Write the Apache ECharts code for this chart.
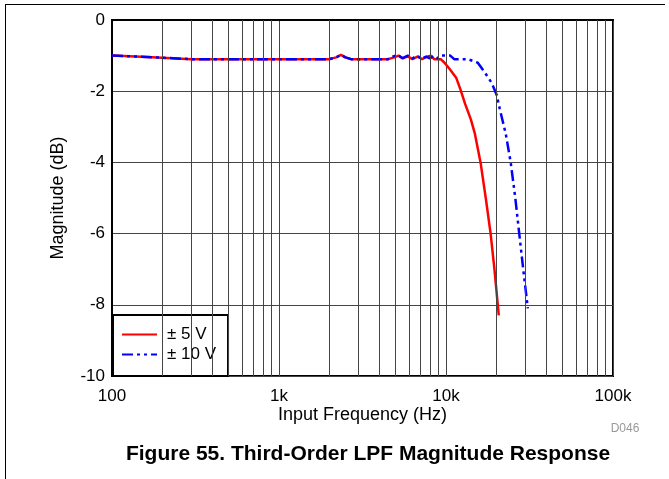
<!DOCTYPE html>
<html>
<head>
<meta charset="utf-8">
<script src="https://cdn.jsdelivr.net/npm/echarts@6/dist/echarts.min.js"></script>
<style>
  html, body { margin: 0; padding: 0; background: #fff; }
  #chart { width: 669px; height: 479px; }
</style>
</head>
<body>
<div id="chart"></div>
<script>
// Frequency response, [frequency (Hz), magnitude (dB)]
const supply5V = [
  [100, -1.0], [150, -1.03], [200, -1.06], [300, -1.1], [500, -1.1], [1000, -1.1],
  [2000, -1.1], [2200, -1.05], [2350, -0.98], [2500, -1.05], [2700, -1.1], [4500, -1.1],
  [4900, -1.05], [5200, -1.0], [5500, -1.08], [5900, -1.02], [6300, -1.1], [6800, -1.02],
  [7200, -1.1], [7700, -1.03], [8100, -1.0], [8500, -1.1], [9300, -1.1], [9800, -1.2],
  [10600, -1.4], [11500, -1.62], [12200, -1.95], [13000, -2.35], [14100, -2.8],
  [14900, -3.2], [16100, -4.0], [17300, -5.0], [18500, -6.0], [19500, -7.0], [20700, -8.3]
];
const supply10V = [
  [100, -1.0], [150, -1.03], [200, -1.06], [300, -1.1], [500, -1.1], [1000, -1.1],
  [2000, -1.1], [2200, -1.05], [2350, -0.98], [2500, -1.05], [2700, -1.1], [4500, -1.1],
  [4800, -1.03], [5100, -0.98], [5500, -1.07], [5900, -1.0], [6300, -1.08], [6700, -1.0],
  [7100, -1.1], [7600, -1.03], [8000, -1.08], [8500, -1.0], [9000, -1.08], [9400, -1.0],
  [10600, -1.0], [11200, -1.1], [13500, -1.1], [15500, -1.2], [17000, -1.46],
  [18800, -1.77], [20100, -2.1], [21000, -2.5], [22800, -3.2], [24400, -4.0],
  [26000, -5.0], [27300, -5.9], [29000, -7.0], [30900, -8.1]
];
const seriesNames = ['\u00b1 5 V', '\u00b1 10 V'];

// Axis ticks
const xTickLabels = { 100: '100', 1000: '1k', 10000: '10k', 100000: '100k' };
const yTicks = [0, -2, -4, -6, -8, -10];
// Intermediate decade gridlines (2..9 x decade)
const minorFreqs = [];
[100, 1000, 10000].forEach(function (d) {
  for (let m = 2; m <= 9; m++) minorFreqs.push(m * d);
});

const FONT = '"Liberation Sans", Arial, sans-serif';
const chart = echarts.init(document.getElementById('chart'), null, { renderer: 'canvas' });

chart.setOption({
  animation: false,
  backgroundColor: '#fff',
  textStyle: { fontFamily: FONT },
  grid: {
    left: 112, right: 56, top: 20, bottom: 103,
    show: true, borderColor: '#000', borderWidth: 2, backgroundColor: 'transparent'
  },
  title: [{
    text: 'Figure 55. Third-Order LPF Magnitude Response',
    left: 363, top: 439, textAlign: 'center',
    textStyle: { fontFamily: FONT, fontSize: 21, fontWeight: 'bold', color: '#000' }
  }, {
    text: 'D046',
    left: 620, top: 418, textAlign: 'center',
    textStyle: { fontFamily: FONT, fontSize: 12, fontWeight: 'normal', color: '#999' }
  }],
  legend: {
    orient: 'vertical',
    left: 113, bottom: 103,
    data: seriesNames,
    itemWidth: 35, itemHeight: 14, itemGap: 3,
    padding: [11, 12, 13, 8],
    backgroundColor: '#fff', borderColor: '#000', borderWidth: 2, borderRadius: 0,
    itemStyle: { opacity: 0 },
    textStyle: { fontFamily: FONT, fontSize: 17, color: '#000', padding: [0, 0, 0, 5] }
  },
  xAxis: {
    type: 'log', logBase: 10, min: 100, max: 100000,
    name: 'Input Frequency (Hz)', nameLocation: 'middle', nameGap: 30,
    nameMoveOverlap: false,
    nameTextStyle: { fontFamily: FONT, fontSize: 18, color: '#000' },
    axisLine: { show: true, lineStyle: { color: '#000', width: 2 } },
    axisTick: { show: false },
    axisLabel: {
      fontFamily: FONT, fontSize: 17, color: '#000', margin: 12,
      formatter: function (v) { return xTickLabels[Math.round(v)] || ''; }
    },
    splitLine: { show: true, lineStyle: { color: '#444', width: 1 } }
  },
  yAxis: {
    type: 'value', min: -10, max: 0, interval: 2,
    name: 'Magnitude (dB)', nameLocation: 'middle', nameGap: 45,
    nameMoveOverlap: false,
    nameTextStyle: { fontFamily: FONT, fontSize: 18, color: '#000' },
    axisLine: { show: true, lineStyle: { color: '#000', width: 2 } },
    axisTick: { show: false },
    axisLabel: {
      fontFamily: FONT, fontSize: 17, color: '#000', margin: 7,
      formatter: function (v) { return yTicks.indexOf(v) >= 0 ? String(v) : ''; }
    },
    splitLine: { show: true, lineStyle: { color: '#444', width: 1 } }
  },
  graphic: [
    { type: 'line', shape: { x1: 5, y1: 4.5, x2: 665, y2: 4.5 }, style: { stroke: '#000', lineWidth: 1 } },
    { type: 'line', shape: { x1: 5.5, y1: 4, x2: 5.5, y2: 479 }, style: { stroke: '#000', lineWidth: 1 } }
  ],
  series: [{
    name: 'grid-minor', type: 'line', data: [], z: 1, silent: true,
    markLine: {
      silent: true, symbol: ['none', 'none'], label: { show: false },
      lineStyle: { color: '#444', width: 1, type: 'solid' },
      data: minorFreqs.map(function (f) { return { xAxis: f }; })
    }
  }, {
    name: seriesNames[0], type: 'line', data: supply5V, z: 3,
    showSymbol: false, symbol: 'none', smooth: false,
    lineStyle: { color: '#ff0000', width: 2.5 },
    itemStyle: { color: '#ff0000' }
  }, {
    name: seriesNames[1], type: 'line', data: supply10V, z: 4,
    showSymbol: false, symbol: 'none', smooth: false,
    lineStyle: { color: '#0000ff', width: 2.5, type: [11, 4, 3, 4, 3, 4] },
    itemStyle: { color: '#0000ff' }
  }]
});
</script>
</body>
</html>
